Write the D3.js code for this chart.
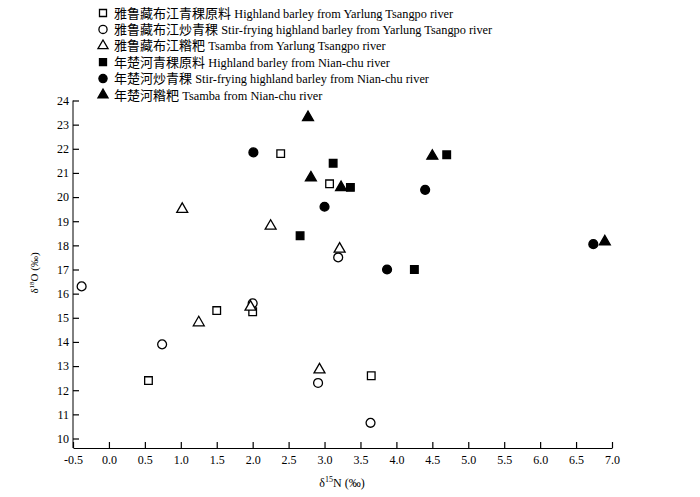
<!DOCTYPE html>
<html>
<head>
<meta charset="utf-8">
<script src="https://cdn.jsdelivr.net/npm/d3@7"></script>
<style>
  body { margin: 0; background: #fff; }
  text { font-family: "Liberation Serif", "Noto Sans CJK SC", serif; fill: #000; }
</style>
</head>
<body>
<script>
const width = 700;
const height = 497;

// series: [δ15N, δ18O]
const yarlungRaw = [[2.39, 21.8], [3.07, 20.55], [0.55, 12.4], [1.5, 15.3], [2.0, 15.25], [3.65, 12.6]];
const yarlungStir = [[-0.38, 16.3], [0.74, 13.9], [2.0, 15.6], [3.19, 17.5], [2.91, 12.3], [3.64, 10.65]];
const yarlungTsamba = [[1.02, 19.5], [2.25, 18.8], [3.21, 17.85], [1.25, 14.8], [1.97, 15.45], [2.93, 12.85]];
const nianchuRaw = [[3.12, 21.4], [3.36, 20.4], [2.66, 18.4], [4.7, 21.75], [4.25, 17.0]];
const nianchuStir = [[2.01, 21.85], [3.0, 19.6], [4.4, 20.3], [3.87, 17.0], [6.74, 18.05]];
const nianchuTsamba = [[2.77, 23.3], [2.81, 20.8], [3.23, 20.4], [4.5, 21.7], [6.9, 18.15]];

// legend labels: [Chinese, English]
const seriesNames = [
  ["雅鲁藏布江青稞原料", "Highland barley from Yarlung Tsangpo river"],
  ["雅鲁藏布江炒青稞", "Stir-frying highland barley from Yarlung Tsangpo river"],
  ["雅鲁藏布江糌粑", "Tsamba from Yarlung Tsangpo river"],
  ["年楚河青稞原料", "Highland barley from Nian-chu river"],
  ["年楚河炒青稞", "Stir-frying highland barley from Nian-chu river"],
  ["年楚河糌粑", "Tsamba from Nian-chu river"]
];
const xTicks = [-0.5, 0.0, 0.5, 1.0, 1.5, 2.0, 2.5, 3.0, 3.5, 4.0, 4.5, 5.0, 5.5, 6.0, 6.5, 7.0];
const yTicks = [10, 11, 12, 13, 14, 15, 16, 17, 18, 19, 20, 21, 22, 23, 24];

const series = [
  { name: seriesNames[0], data: yarlungRaw, shape: d3.symbolSquare, filled: false },
  { name: seriesNames[1], data: yarlungStir, shape: d3.symbolCircle, filled: false },
  { name: seriesNames[2], data: yarlungTsamba, shape: d3.symbolTriangle, filled: false },
  { name: seriesNames[3], data: nianchuRaw, shape: d3.symbolSquare, filled: true },
  { name: seriesNames[4], data: nianchuStir, shape: d3.symbolCircle, filled: true },
  { name: seriesNames[5], data: nianchuTsamba, shape: d3.symbolTriangle, filled: true }
];

const svg = d3.select("body").append("svg")
  .attr("width", width)
  .attr("height", height);

const x = d3.scaleLinear().domain([-0.5, 7.0]).range([73, 612]);
const y = d3.scaleLinear().domain([10, 24]).range([438.5, 100.5]);
const axisY = 448;

// x axis
const xAxis = svg.append("g")
  .attr("transform", "translate(0," + axisY + ")")
  .call(d3.axisBottom(x).tickValues(xTicks).tickSize(-6).tickSizeOuter(0).tickPadding(7)
    .tickFormat(d3.format(".1f")));
xAxis.selectAll("text").attr("font-size", 12).text(d => d3.format(".1f")(d).replace("−", "-"));

// y axis (runs down to the x axis line)
svg.append("line")
  .attr("x1", x(-0.5)).attr("x2", x(-0.5))
  .attr("y1", y(24)).attr("y2", axisY)
  .attr("stroke", "#000");
const yAxis = svg.append("g")
  .attr("transform", "translate(" + x(-0.5) + ",0)")
  .call(d3.axisLeft(y).tickValues(yTicks).tickSize(-6).tickSizeOuter(0).tickPadding(4));
yAxis.select(".domain").remove();
yAxis.selectAll("text").attr("font-size", 12);
svg.selectAll(".tick line").attr("stroke", "#000").attr("stroke-width", 1.2);

// axis titles
const xt = svg.append("text")
  .attr("x", 342).attr("y", 487)
  .attr("text-anchor", "middle").attr("font-size", 12);
xt.append("tspan").text("δ");
xt.append("tspan").attr("font-size", 8).attr("dy", -5).text("15");
xt.append("tspan").attr("dy", 5).text("N (‰)");

const yt = svg.append("text")
  .attr("transform", "translate(38,273) rotate(-90)")
  .attr("text-anchor", "middle").attr("font-size", 11);
yt.append("tspan").text("δ");
yt.append("tspan").attr("font-size", 7).attr("dy", -4).text("18");
yt.append("tspan").attr("dy", 4).text("O (‰)");

function symSize(shape) {
  if (shape === d3.symbolSquare) return 58;
  if (shape === d3.symbolCircle) return 62;
  return 52;
}

// points
series.forEach(s => {
  svg.append("g").selectAll("path")
    .data(s.data)
    .enter()
    .append("path")
    .attr("d", d3.symbol().type(s.shape).size(symSize(s.shape)))
    .attr("transform", d => "translate(" + x(d[0]) + "," + y(d[1]) + ")")
    .attr("fill", s.filled ? "#000" : "#fff")
    .attr("stroke", "#000")
    .attr("stroke-width", 1.3);
});

// legend
const legend = svg.append("g").selectAll("g")
  .data(series)
  .enter()
  .append("g")
  .attr("transform", (d, i) => "translate(103," + (13 + i * 16.4) + ")");
legend.append("path")
  .attr("d", d => d3.symbol().type(d.shape).size(symSize(d.shape) * 0.85)())
  .attr("fill", d => d.filled ? "#000" : "#fff")
  .attr("stroke", "#000")
  .attr("stroke-width", 1.3);
const lt = legend.append("text")
  .attr("x", 11).attr("y", 4.5);
lt.append("tspan").attr("font-size", 13).text(d => d.name[0] + " ");
lt.append("tspan").attr("font-size", 12.3).text(d => d.name[1]);
</script>
</body>
</html>
